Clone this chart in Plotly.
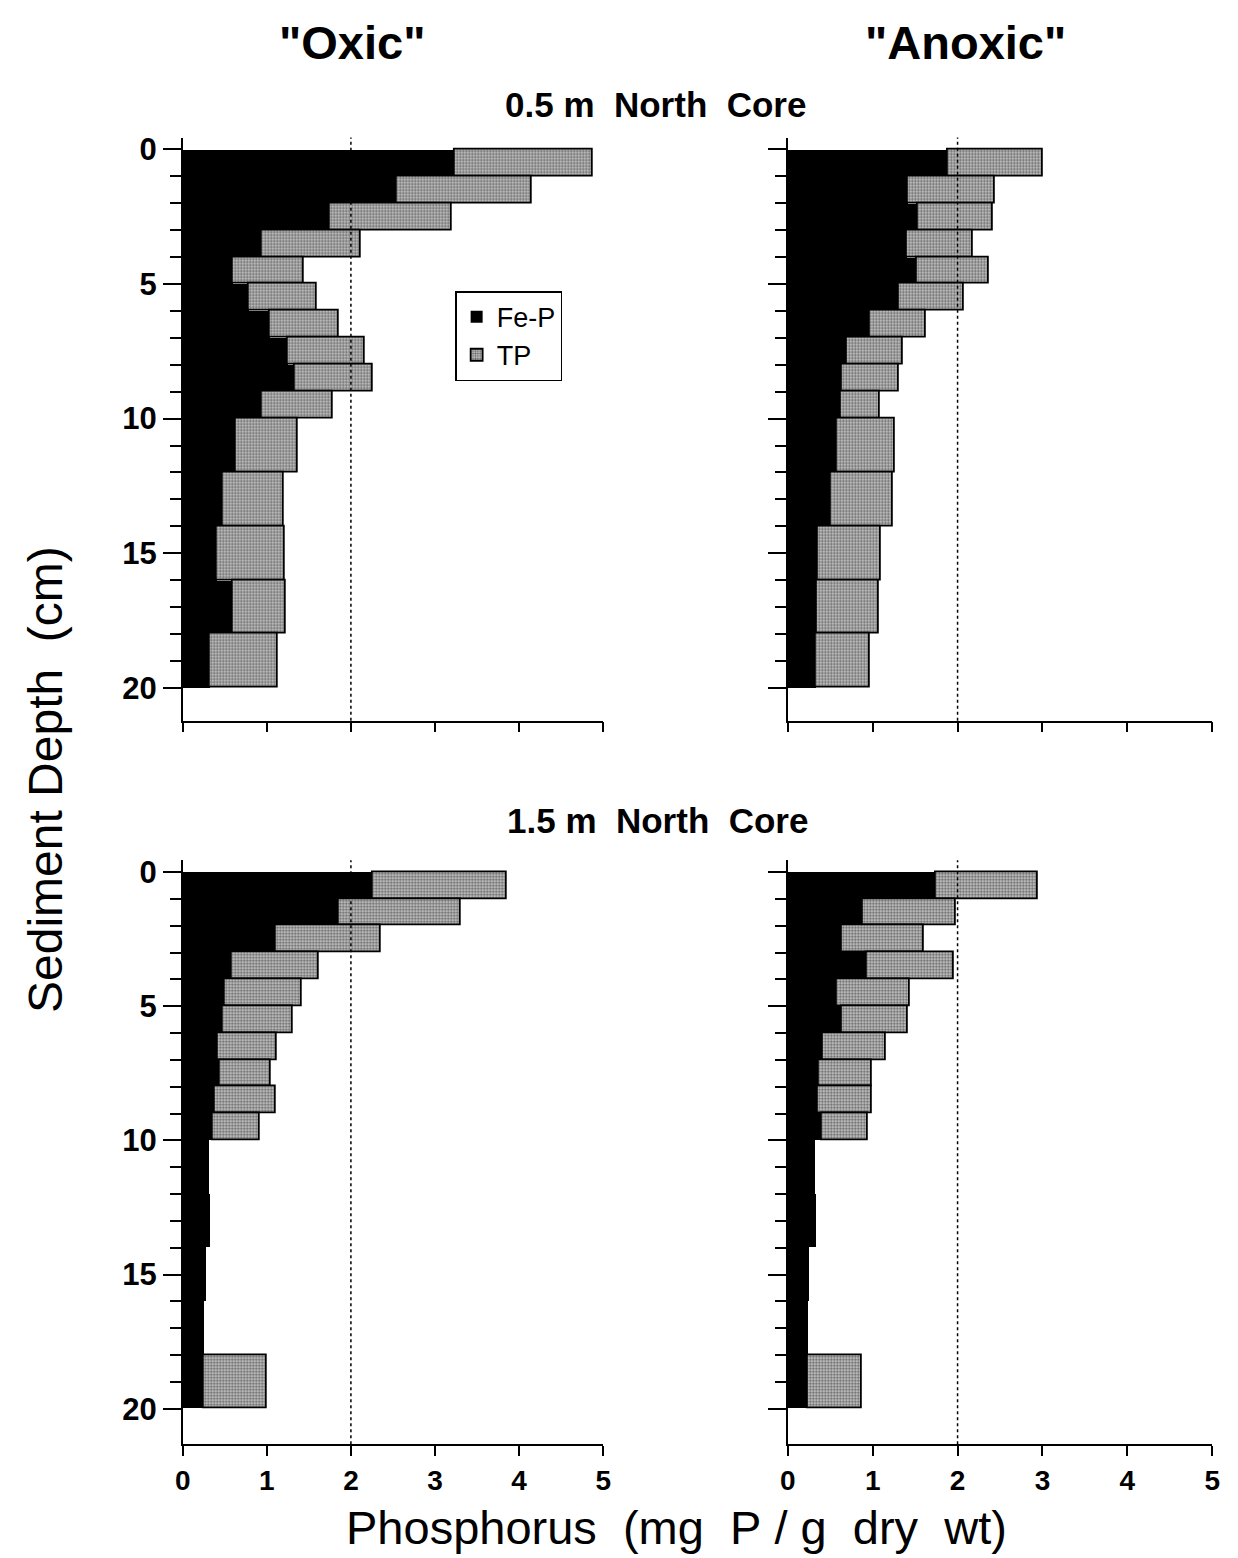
import plotly.graph_objects as go

# Depth intervals (cm)
depth_top = [0, 1, 2, 3, 4, 5, 6, 7, 8, 9, 10, 12, 14, 16, 18]
depth_bot = [1, 2, 3, 4, 5, 6, 7, 8, 9, 10, 12, 14, 16, 18, 20]

# 0.5 m North Core
oxic05_fep = [3.24, 2.55, 1.75, 0.94, 0.60, 0.78, 1.03, 1.25, 1.33, 0.94, 0.63, 0.48, 0.40, 0.59, 0.32]
oxic05_tp = [4.88, 4.15, 3.20, 2.12, 1.44, 1.59, 1.86, 2.17, 2.26, 1.78, 1.37, 1.20, 1.21, 1.23, 1.13]
anox05_fep = [1.88, 1.41, 1.53, 1.40, 1.52, 1.31, 0.97, 0.70, 0.64, 0.62, 0.58, 0.51, 0.35, 0.34, 0.33]
anox05_tp = [3.00, 2.44, 2.41, 2.18, 2.37, 2.07, 1.63, 1.36, 1.31, 1.08, 1.26, 1.24, 1.10, 1.07, 0.97]

# 1.5 m North Core
oxic15_fep = [2.26, 1.85, 1.10, 0.58, 0.50, 0.48, 0.42, 0.44, 0.38, 0.36, 0.31, 0.32, 0.27, 0.25, 0.25]
oxic15_tp = [3.85, 3.31, 2.36, 1.62, 1.42, 1.31, 1.12, 1.05, 1.10, 0.92, None, None, None, None, 1.00]
anox15_fep = [1.74, 0.88, 0.64, 0.93, 0.58, 0.64, 0.41, 0.37, 0.35, 0.40, 0.32, 0.33, 0.25, 0.24, 0.24]
anox15_tp = [2.94, 1.98, 1.60, 1.96, 1.44, 1.41, 1.15, 0.99, 0.99, 0.94, None, None, None, None, 0.87]

x_ticks = [0, 1, 2, 3, 4, 5]
y_ticks = [0, 5, 10, 15, 20]
y_minor = list(range(0, 21))

centers = [(a + b) / 2 for a, b in zip(depth_top, depth_bot)]
widths = [b - a for a, b in zip(depth_top, depth_bot)]

FONT = "Liberation Sans, Arial, Helvetica, sans-serif"

fig = go.Figure()

panels = [
    (oxic05_fep, oxic05_tp, "x", "y", True),
    (anox05_fep, anox05_tp, "x2", "y2", False),
    (oxic15_fep, oxic15_tp, "x3", "y3", False),
    (anox15_fep, anox15_tp, "x4", "y4", False),
]

for fep, tp, xa, ya, show in panels:
    fig.add_trace(go.Bar(
        orientation="h", x=fep, y=centers, width=widths, base=0,
        marker=dict(color="black", line=dict(width=0)),
        name="Fe-P", showlegend=show, xaxis=xa, yaxis=ya,
    ))
    diff = [None if t is None else t - f for f, t in zip(fep, tp)]
    fig.add_trace(go.Bar(
        orientation="h", x=diff, y=centers, width=widths, base=fep,
        marker=dict(color="#b8b8b8", line=dict(color="black", width=1.8),
                    pattern=dict(shape=".", fgcolor="#000000", bgcolor="#d2d2d2", size=3, solidity=0.5)),
        name="TP", showlegend=show, xaxis=xa, yaxis=ya,
    ))

xdom_l = [177 / 1238, 603 / 1238]
xdom_r = [790 / 1238, 1220 / 1238]
ydom_t = [1 - 718 / 1558, 1 - 133 / 1558]
ydom_b = [1 - 1444 / 1558, 1 - 858 / 1558]

def xaxis(dom, anchor, labels):
    return dict(domain=dom, anchor=anchor, range=[0, 5], tickvals=x_ticks,
                ticks="outside", ticklen=10, tickwidth=1.5, tickcolor="black",
                showline=True, linecolor="black", linewidth=1.5, showgrid=False,
                zeroline=False, showticklabels=labels,
                tickfont=dict(family=FONT, size=28, color="black", weight="bold"))

def yaxis(dom, anchor, labels, rng):
    return dict(domain=dom, anchor=anchor, range=rng, tickvals=y_ticks,
                ticks="outside", ticklen=18, tickwidth=1.5, tickcolor="black",
                minor=dict(tickvals=y_minor, ticks="outside", ticklen=11, tickwidth=1.5, tickcolor="black"),
                showline=True, linecolor="black", linewidth=1.5, showgrid=False,
                zeroline=False, showticklabels=labels,
                tickfont=dict(family=FONT, size=31, color="black", weight="bold"))

rng_t = [21.22, -0.44]
rng_b = [21.33, -0.44]

fig.update_layout(
    width=1238, height=1558,
    margin=dict(l=0, r=0, t=0, b=0),
    paper_bgcolor="white", plot_bgcolor="white",
    barmode="overlay", bargap=0,
    xaxis=xaxis(xdom_l, "y", False),
    yaxis=yaxis(ydom_t, "x", True, rng_t),
    xaxis2=xaxis(xdom_r, "y2", False),
    yaxis2=yaxis(ydom_t, "x2", False, rng_t),
    xaxis3=xaxis(xdom_l, "y3", True),
    yaxis3=yaxis(ydom_b, "x3", True, rng_b),
    xaxis4=xaxis(xdom_r, "y4", True),
    yaxis4=yaxis(ydom_b, "x4", False, rng_b),
    legend=dict(x=453 / 1238, y=1 - 287 / 1558, xanchor="left", yanchor="top",
                bordercolor="black", borderwidth=1.5, bgcolor="white",
                font=dict(family=FONT, size=27, color="black"),
                tracegroupgap=0, itemwidth=30),
    font=dict(family=FONT, color="black"),
)

for xa, ya in [("x", "y"), ("x2", "y2"), ("x3", "y3"), ("x4", "y4")]:
    fig.add_shape(type="line", xref=xa, yref=ya + " domain", x0=2, x1=2, y0=0, y1=1,
                  line=dict(color="black", width=1.5, dash="dot"), layer="above")

def ann(text, x, y, size, bold=True, angle=0):
    fig.add_annotation(text=text, x=x, y=y, xref="paper", yref="paper",
                       xanchor="center", yanchor="middle", showarrow=False, textangle=angle,
                       font=dict(family=FONT, size=size, color="black",
                                 weight="bold" if bold else "normal"))

nb = "\u00a0"
ann('"Oxic"', 348 / 1238, 1 - 38 / 1558, 47)
ann('"Anoxic"', 970 / 1238, 1 - 38 / 1558, 47)
ann("0.5 m" + nb * 2 + "North" + nb * 2 + "Core", 656 / 1238, 1 - 100 / 1558, 35)
ann("1.5 m" + nb * 2 + "North" + nb * 2 + "Core", 658 / 1238, 1 - 818 / 1558, 35)
ann("Sediment" + nb + "Depth" + nb * 2 + "(cm)", 38 / 1238, 1 - 777 / 1558, 48, bold=False, angle=-90)
ann("Phosphorus" + nb * 2 + "(mg" + nb * 2 + "P" + nb + "/" + nb + "g" + nb * 2 + "dry" + nb * 2 + "wt)",
    677 / 1238, 1 - 1527 / 1558, 47, bold=False)

fig.write_html("out.html")
